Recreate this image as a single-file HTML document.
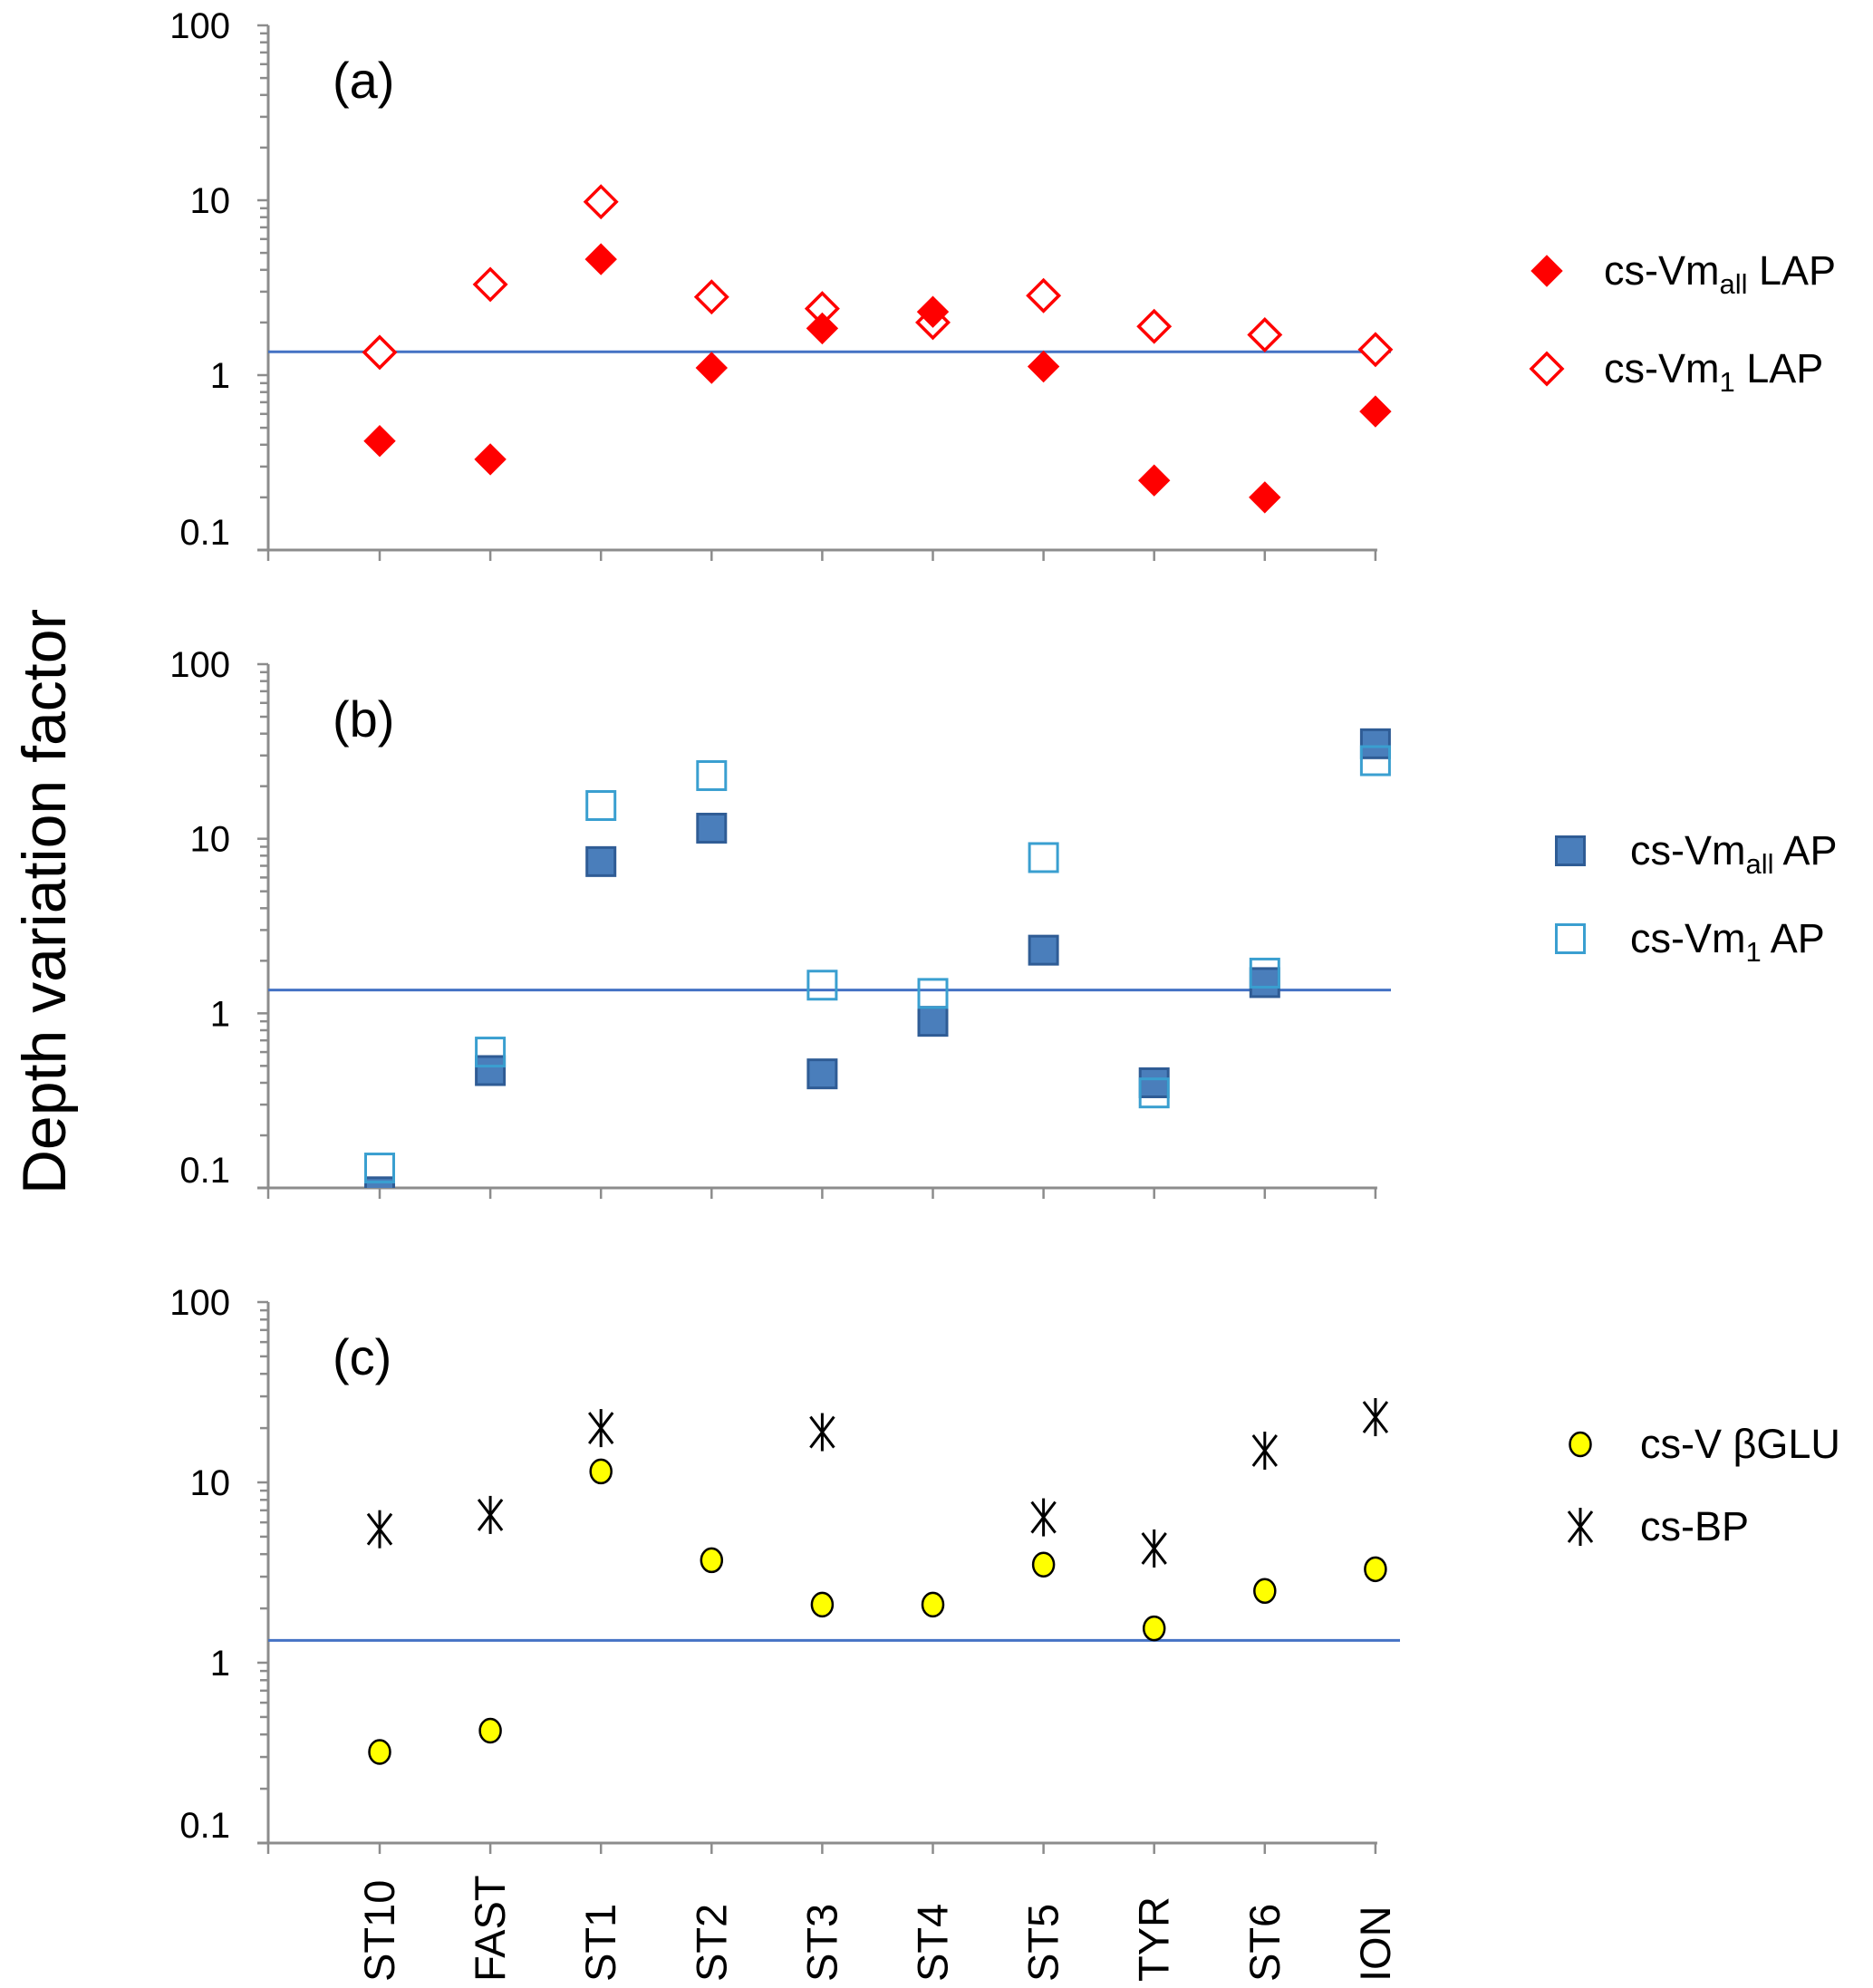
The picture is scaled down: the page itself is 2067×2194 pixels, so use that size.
<!DOCTYPE html>
<html><head><meta charset="utf-8"><style>
html,body{margin:0;padding:0;background:#fff}
svg{display:block;font-family:"Liberation Sans","DejaVu Sans",sans-serif}
</style></head><body>
<svg id="chart" width="2067" height="2194" viewBox="0 0 2067 2194" xmlns="http://www.w3.org/2000/svg">
<defs><clipPath id="clipb"><rect x="296" y="700" width="1300" height="611"/></clipPath></defs>
<text transform="translate(72,995) rotate(-90)" text-anchor="middle" font-size="68" fill="#000">Depth variation factor</text>
</svg>
<script>
const categories = ["ST10","FAST","ST1","ST2","ST3","ST4","ST5","TYR","ST6","ION"];
const lapAll = [0.42,0.33,4.6,1.1,1.85,2.3,1.12,0.25,0.2,0.62];
const lap1 = [1.35,3.3,9.8,2.8,2.4,2.0,2.85,1.9,1.7,1.4];
const apAll = [0.095,0.47,7.4,11.5,0.45,0.9,2.3,0.4,1.5,35];
const ap1 = [0.13,0.6,15.5,23,1.45,1.3,7.8,0.35,1.7,28];
const betaGlu = [0.32,0.42,11.5,3.7,2.1,2.1,3.5,1.55,2.5,3.3];
const csBP = [5.5,6.6,20,null,19,null,6.4,4.3,15,23];
const refLine = [1.36,1.36,1.33];
const yTicks = [100,10,1,0.1];
const yTickLabels = ["100","10","1","0.1"];

const NS="http://www.w3.org/2000/svg";
const svg=document.getElementById('chart');
function mk(tag,attrs,parent){const e=document.createElementNS(NS,tag);for(const k in attrs)e.setAttribute(k,attrs[k]);(parent||svg).appendChild(e);return e;}
const axX=296, x0=419, dx=122.1;
function xs(i){return x0+i*dx;}
const panels=[
 {top:28,bot:607,lineEnd:1535,label:"(a)"},
 {top:733,bot:1311,lineEnd:1535,label:"(b)"},
 {top:1437,bot:2034,lineEnd:1545,label:"(c)"}
];
function ys(p,v){return p.bot-(Math.log10(v)+1)/3*(p.bot-p.top);}

panels.forEach((p,pi)=>{
 const g=mk('g',{});
 
 
 const yax=mk('line',{x1:axX,y1:p.top,x2:axX,y2:p.bot,stroke:'#8c8c8c','stroke-width':3},g);
 
 
 const xax=mk('line',{x1:axX-12,y1:p.bot,x2:xs(9)+2,y2:p.bot,stroke:'#8c8c8c','stroke-width':3},g);
 
 
 for(let d=-1;d<2;d++){for(let m=1;m<=9;m++){const v=m*Math.pow(10,d);
   mk('line',{x1:axX-(m==1?12:9),y1:ys(p,v),x2:axX,y2:ys(p,v),stroke:'#8c8c8c','stroke-width':2.5},g);}}
 mk('line',{x1:axX-12,y1:p.top,x2:axX,y2:p.top,stroke:'#8c8c8c','stroke-width':2.5},g);
 yTicks.forEach((t,i)=>{
   const tx=mk('text',{x:254,y:ys(p,t)+(t==0.1?-6:14),'text-anchor':'end','font-size':40,fill:'#000'},g);
   tx.textContent=yTickLabels[i];
   
   
 });
 mk('line',{x1:axX,y1:p.bot,x2:axX,y2:p.bot+12,stroke:'#8c8c8c','stroke-width':2.5},g);
 categories.forEach((c,i)=>mk('line',{x1:xs(i),y1:p.bot,x2:xs(i),y2:p.bot+12,stroke:'#8c8c8c','stroke-width':2.5},g));
 const pl=mk('text',{x:367,y:p.top+80,'font-size':56,fill:'#000'},g);
 pl.textContent=p.label;
 
 
 const rl=mk('line',{x1:axX,y1:ys(p,refLine[pi]),x2:p.lineEnd,y2:ys(p,refLine[pi]),stroke:'#4472c4','stroke-width':3},g);
 
 
});

function diamond(x,y,filled,name,par){const s=17;const e=mk('polygon',{points:`${x},${y-s} ${x+s},${y} ${x},${y+s} ${x-s},${y}`,fill:filled?'#ff0000':'#fff',stroke:'#ff0000','stroke-width':filled?1:3.5},par);
 }
function square(x,y,filled,name,par){const s=31;const e=mk('rect',{x:x-s/2,y:y-s/2,width:s,height:s,fill:filled?'#4a7ebb':'none',stroke:filled?'#2f5c95':'#3a9fd0','stroke-width':3},par);
 }
function circ(x,y,name,par){const e=mk('ellipse',{cx:x,cy:y,rx:11.5,ry:13,fill:'#ffff00',stroke:'#000','stroke-width':2.5},par);
 }
function star(x,y,name,par){const g=mk('g',{stroke:'#000','stroke-width':3},par);
 
 mk('line',{x1:x,y1:y-21,x2:x,y2:y+21},g);mk('line',{x1:x-13,y1:y-17,x2:x+13,y2:y+17},g);mk('line',{x1:x-13,y1:y+17,x2:x+13,y2:y-17},g);}

const [pa,pb,pc]=panels;
lap1.forEach((v,i)=>diamond(xs(i),ys(pa,v),false,'point-lap1'));
lapAll.forEach((v,i)=>diamond(xs(i),ys(pa,v),true,'point-lapall'));
const gb=mk('g',{'clip-path':'url(#clipb)'});


apAll.forEach((v,i)=>square(xs(i),ys(pb,v),true,'point-apall',gb));
ap1.forEach((v,i)=>square(xs(i),ys(pb,v),false,'point-ap1',gb));
csBP.forEach((v,i)=>{if(v!=null)star(xs(i),ys(pc,v),'point-csbp');});
betaGlu.forEach((v,i)=>circ(xs(i),ys(pc,v),'point-betaglu'));

categories.forEach((c,i)=>{const t=mk('text',{transform:`translate(${xs(i)+16},2187) rotate(-90)`,'font-size':47,fill:'#000'});
 t.textContent=c;
 
 });

function legendText(x,y,main,sub,rest,name){const t=mk('text',{x:x,y:y+15,'font-size':45,fill:'#000'});
 
 t.appendChild(document.createTextNode(main));
 if(sub){const s=mk('tspan',{'font-size':31,dy:10},t);s.textContent=sub;const r=mk('tspan',{dy:-10},t);r.textContent=rest;}
 else{t.lastChild.textContent=main+rest;}}
diamond(1707,299,true,'legend-marker-lapall');legendText(1770,299,'cs-Vm','all',' LAP','legend-lapall');
diamond(1707,407,false,'legend-marker-lap1');legendText(1770,407,'cs-Vm','1',' LAP','legend-lap1');
square(1733,939,true,'legend-marker-apall');legendText(1799,939,'cs-Vm','all',' AP','legend-apall');
square(1733,1036,false,'legend-marker-ap1');legendText(1799,1036,'cs-Vm','1',' AP','legend-ap1');
circ(1744,1594,'legend-marker-betaglu');legendText(1810,1594,'cs-V βGLU',null,'','legend-betaglu');
star(1744,1685,'legend-marker-csbp');legendText(1810,1685,'cs-BP',null,'','legend-csbp');
</script>
</body></html>
